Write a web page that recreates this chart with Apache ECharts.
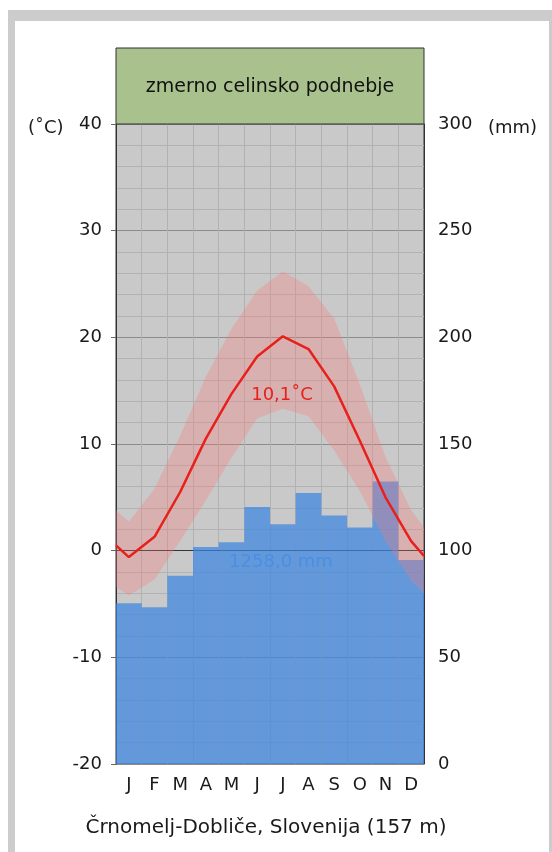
<!DOCTYPE html>
<html>
<head>
<meta charset="utf-8">
<script src="https://cdn.jsdelivr.net/npm/echarts@6/dist/echarts.min.js"></script>
<style>
html,body{margin:0;padding:0;background:#fff;}
#frame{position:absolute;left:8px;top:10px;width:544px;height:842px;background:#cccccc;}
#card{position:absolute;left:15px;top:21px;width:534px;height:831px;background:#fff;}
#chart{position:absolute;left:0;top:0;width:552px;height:852px;}
</style>
</head>
<body>
<div id="frame"></div>
<div id="card"></div>
<div id="chart"></div>
<script>
// ---- data ----
var months = ['J','F','M','A','M','J','J','A','S','O','N','D'];
var precip = [75.4, 73.5, 88.2, 101.7, 103.9, 120.5, 112.4, 127.0, 116.5, 110.9, 132.4, 95.6];
var temp   = [-0.6, 1.3, 5.5, 10.5, 14.7, 18.2, 20.1, 18.9, 15.4, 10.3, 5.0, 0.9];
var tempEdges = [0.5, -0.5];           // value at left and right plot edge
var tMax   = [2.7, 5.8, 10.8, 16.3, 20.8, 24.4, 26.2, 24.8, 21.8, 15.6, 8.8, 3.8];
var tMaxEdges = [3.8, 2.2];
var tMin   = [-4.2, -2.7, 0.9, 4.7, 8.7, 12.4, 13.3, 12.6, 9.4, 5.6, 0.9, -2.8];
var tMinEdges = [-3.4, -4.0];
var tempTicks = [-20, -10, 0, 10, 20, 30, 40];
var precTicks = [0, 50, 100, 150, 200, 250, 300];
var climateName = 'zmerno celinsko podnebje';
var stationName = 'Črnomelj-Dobliče, Slovenija (157 m)';
var annualTemp = '10,1˚C';
var annualPrec = '1258,0 mm';

// ---- build ----
var FONT = 'DejaVu Sans';
var xs = [0];
months.forEach(function(m, i){ xs.push(i + 0.5); });
xs.push(months.length);
var lineVals = [tempEdges[0]].concat(temp, [tempEdges[1]]);
var maxVals = [tMaxEdges[0]].concat(tMax, [tMaxEdges[1]]);
var minVals = [tMinEdges[0]].concat(tMin, [tMinEdges[1]]);
var lineData = xs.map(function(x, i){ return [x, lineVals[i]]; });

var chart = echarts.init(document.getElementById('chart'), null, {renderer:'canvas'});
var option = {
  animation: false,
  backgroundColor: 'transparent',
  grid: {left:116, top:124, width:308, height:640, show:true, backgroundColor:'#c9c9c9', borderColor:'#333', borderWidth:1},
  xAxis: [
    {type:'category', data:months, boundaryGap:true, gridIndex:0,
     axisLine:{show:true, lineStyle:{color:'#333', width:1}},
     axisTick:{show:false},
     axisLabel:{fontSize:18, color:'#1a1a1a', margin:12, fontFamily:FONT},
     splitLine:{show:true, interval:0, lineStyle:{color:'#b2b2b2', width:1}}},
    {type:'value', min:0, max:months.length, show:false, gridIndex:0}
  ],
  yAxis: [
    {type:'value', min:tempTicks[0], max:tempTicks[tempTicks.length-1], interval:10, position:'left',
     axisLine:{show:true, lineStyle:{color:'#333'}},
     axisTick:{show:true, length:5, lineStyle:{color:'#666'}},
     axisLabel:{fontSize:18, color:'#1a1a1a', margin:14, fontFamily:FONT},
     splitLine:{show:true, lineStyle:{color:'#8c8c8c', width:1}},
     minorTick:{show:false, splitNumber:5},
     minorSplitLine:{show:true, lineStyle:{color:'#b2b2b2', width:1}}},
    {type:'value', min:precTicks[0], max:precTicks[precTicks.length-1], interval:50, position:'right',
     axisLine:{show:true, lineStyle:{color:'#333'}},
     axisTick:{show:false},
     axisLabel:{fontSize:18, color:'#1a1a1a', margin:14, fontFamily:FONT},
     splitLine:{show:false}}
  ],
  series: [
    {type:'bar', xAxisIndex:0, yAxisIndex:1, data:precip, barCategoryGap:'0%', barGap:'0%',
     itemStyle:{color:'rgba(60,135,225,0.72)'}, z:2},
    {type:'custom', xAxisIndex:1, yAxisIndex:0, data:[0], z:3, silent:true,
     renderItem:function(params, api){
       var pts = [];
       for (var i = 0; i < xs.length; i++) pts.push(api.coord([xs[i], maxVals[i]]));
       for (var j = xs.length - 1; j >= 0; j--) pts.push(api.coord([xs[j], minVals[j]]));
       return {type:'polygon', shape:{points:pts}, style:{fill:'rgba(255,120,120,0.3)'}};
     }},
    {type:'line', xAxisIndex:1, yAxisIndex:0, data:lineData, symbol:'none', z:4,
     lineStyle:{color:'#e8201c', width:2.5}}
  ],
  graphic: [
    {type:'rect', z:100, shape:{x:116, y:48, width:308, height:76}, style:{fill:'#a9c18d', stroke:'#333', lineWidth:1}},
    {type:'text', z:101, x:270, y:87, style:{text:climateName, fontSize:19, fontFamily:FONT, fill:'#111', textAlign:'center', textVerticalAlign:'middle'}},
    {type:'text', z:101, x:28, y:128, style:{text:'(˚C)', fontSize:18, fontFamily:FONT, fill:'#1a1a1a', textAlign:'left', textVerticalAlign:'middle'}},
    {type:'text', z:101, x:488, y:128, style:{text:'(mm)', fontSize:18, fontFamily:FONT, fill:'#1a1a1a', textAlign:'left', textVerticalAlign:'middle'}},
    {type:'text', z:101, x:282, y:395, style:{text:annualTemp, fontSize:18, fontFamily:FONT, fill:'#e8201c', textAlign:'center', textVerticalAlign:'middle'}},
    {type:'text', z:101, x:281, y:562, style:{text:annualPrec, fontSize:18, fontFamily:FONT, fill:'#4a8fe4', textAlign:'center', textVerticalAlign:'middle'}},
    {type:'text', z:101, x:266, y:828, style:{text:stationName, fontSize:20, fontFamily:FONT, fill:'#1a1a1a', textAlign:'center', textVerticalAlign:'middle'}}
  ]
};
chart.setOption(option);
</script>
</body>
</html>
